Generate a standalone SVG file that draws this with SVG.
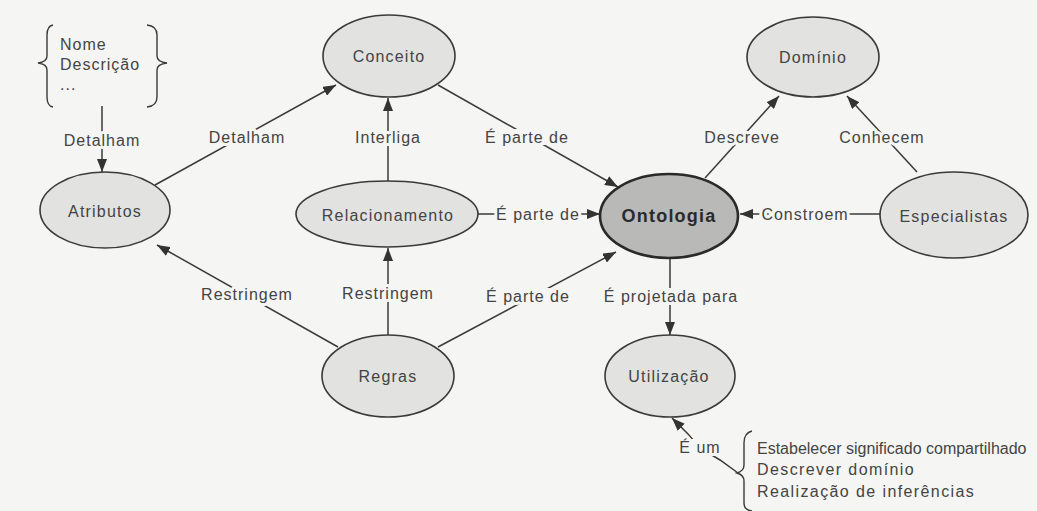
<svg xmlns="http://www.w3.org/2000/svg" width="1037" height="511" viewBox="0 0 1037 511">
  <style>
    .node { fill: #e2e2e0; stroke: #3a3a3a; stroke-width: 1.6; }
    .core { fill: #b9b9b7; stroke: #2a2a2a; stroke-width: 2.6; }
    .ntext { font-family: "Liberation Sans", Arial, sans-serif; font-size: 16px; letter-spacing: 1.2px; fill: #444; text-anchor: middle; dominant-baseline: central; }
    .ctext { font-family: "Liberation Sans", Arial, sans-serif; font-size: 18px; letter-spacing: 1.2px; font-weight: bold; fill: #2a2a2a; text-anchor: middle; dominant-baseline: central; }
    .edge { stroke: #3a3a3a; stroke-width: 1.5; fill: none; }
    .label { font-family: "Liberation Sans", Arial, sans-serif; font-size: 16px; letter-spacing: 1px; fill: #444; text-anchor: middle; dominant-baseline: central; stroke: #f5f5f3; stroke-width: 6px; paint-order: stroke; stroke-linejoin: round; }
    .gap { fill: #f5f5f3; }
    .list { font-family: "Liberation Sans", Arial, sans-serif; font-size: 16px; letter-spacing: 1px; fill: #444; }
    .uses { font-family: "Liberation Sans", Arial, sans-serif; font-size: 16px; letter-spacing: 1.4px; fill: #444; }
    .uses.long { letter-spacing: 0; }
    .brace { stroke: #3a3a3a; stroke-width: 1.4; fill: none; }
  </style>
  <defs>
    <marker id="arrow" viewBox="0 0 13 10" refX="13" refY="5" markerWidth="13" markerHeight="10" markerUnits="userSpaceOnUse" orient="auto">
      <path d="M0,0 L13,5 L0,10 Z" fill="#333"/>
    </marker>
  </defs>

  <rect width="1037" height="511" fill="#f5f5f3"/>

  <!-- connectors -->
  <g id="connectors">
    <line class="edge" x1="102" y1="106" x2="102" y2="172" marker-end="url(#arrow)"/>
    <line class="edge" x1="155" y1="185" x2="336" y2="85" marker-end="url(#arrow)"/>
    <line class="edge" x1="388" y1="182" x2="388" y2="98" marker-end="url(#arrow)"/>
    <line class="edge" x1="438" y1="85" x2="618" y2="187" marker-end="url(#arrow)"/>
    <line class="edge" x1="477" y1="214" x2="600" y2="214" marker-end="url(#arrow)"/>
    <line class="edge" x1="438" y1="347" x2="616" y2="252" marker-end="url(#arrow)"/>
    <line class="edge" x1="388" y1="335" x2="388" y2="248" marker-end="url(#arrow)"/>
    <line class="edge" x1="338" y1="347" x2="157" y2="245" marker-end="url(#arrow)"/>
    <line class="edge" x1="705" y1="178" x2="779" y2="96" marker-end="url(#arrow)"/>
    <line class="edge" x1="917" y1="172" x2="847" y2="96" marker-end="url(#arrow)"/>
    <line class="edge" x1="880" y1="214" x2="740" y2="214" marker-end="url(#arrow)"/>
    <line class="edge" x1="670" y1="258" x2="670" y2="335" marker-end="url(#arrow)"/>
    <polyline class="edge" points="738,473 720,460 700,448 688,434 672,418" marker-end="url(#arrow)"/>

    <!-- clear the line behind labels that contain spaces -->
    <rect class="gap" x="484" y="129" width="86" height="16"/>
    <rect class="gap" x="495" y="206" width="86" height="16"/>
    <rect class="gap" x="485" y="288" width="86" height="16"/>
    <rect class="gap" x="604" y="288" width="134" height="16"/>
    <rect class="gap" x="679" y="439" width="42" height="16"/>

    <text class="label" x="102" y="140">Detalham</text>
    <text class="label" x="247" y="137">Detalham</text>
    <text class="label" x="388" y="137">Interliga</text>
    <text class="label" x="527" y="137">É parte de</text>
    <text class="label" x="538" y="214">É parte de</text>
    <text class="label" x="528" y="296">É parte de</text>
    <text class="label" x="388" y="293">Restringem</text>
    <text class="label" x="247" y="294">Restringem</text>
    <text class="label" x="742" y="137">Descreve</text>
    <text class="label" x="882" y="137">Conhecem</text>
    <text class="label" x="805" y="214">Constroem</text>
    <text class="label" x="671" y="296">É projetada para</text>
    <text class="label" x="700" y="447">É um</text>
  </g>

  <!-- attribute list -->
  <g id="attribute-list">
    <path class="brace" d="M53,25 Q47,26 47,35 L47,56 Q47,62 38,63 Q47,64 47,70 L47,97 Q47,106 53,107"/>
    <path class="brace" d="M147,25 Q157,26 157,35 L157,56 Q157,62 167,63 Q157,64 157,70 L157,97 Q157,106 147,107"/>
    <text class="list" x="60" y="50">Nome</text>
    <text class="list" x="60" y="70">Descrição</text>
    <text class="list" x="60" y="90" font-size="10">...</text>
  </g>

  <!-- nodes -->
  <g id="atributos">
    <ellipse class="node" cx="105" cy="210" rx="65" ry="38"/>
    <text class="ntext" x="105" y="211">Atributos</text>
  </g>
  <g id="conceito">
    <ellipse class="node" cx="389" cy="56" rx="66" ry="41"/>
    <text class="ntext" x="389" y="56">Conceito</text>
  </g>
  <g id="relacionamento">
    <ellipse class="node" cx="387" cy="214" rx="91" ry="33"/>
    <text class="ntext" x="388" y="215">Relacionamento</text>
  </g>
  <g id="ontologia">
    <ellipse class="core" cx="669" cy="216" rx="69" ry="42"/>
    <text class="ctext" x="669" y="216">Ontologia</text>
  </g>
  <g id="dominio">
    <ellipse class="node" cx="813" cy="57" rx="66" ry="40"/>
    <text class="ntext" x="813" y="57">Domínio</text>
  </g>
  <g id="especialistas">
    <ellipse class="node" cx="954" cy="215" rx="74" ry="43"/>
    <text class="ntext" x="954" y="216">Especialistas</text>
  </g>
  <g id="regras">
    <ellipse class="node" cx="388" cy="376" rx="66" ry="41"/>
    <text class="ntext" x="388" y="376">Regras</text>
  </g>
  <g id="utilizacao">
    <ellipse class="node" cx="670" cy="376" rx="65" ry="41"/>
    <text class="ntext" x="669" y="376">Utilização</text>
  </g>

  <!-- uses list -->
  <g id="uses-list">
    <path class="brace" d="M752,431 Q744,433 744,443 L744,465 Q744,471 737,473 Q744,475 744,481 L744,503 Q744,510 752,511"/>
    <text class="uses long" x="757" y="454">Estabelecer significado compartilhado</text>
    <text class="uses" x="757" y="475">Descrever domínio</text>
    <text class="uses" x="757" y="497">Realização de inferências</text>
  </g>
</svg>
